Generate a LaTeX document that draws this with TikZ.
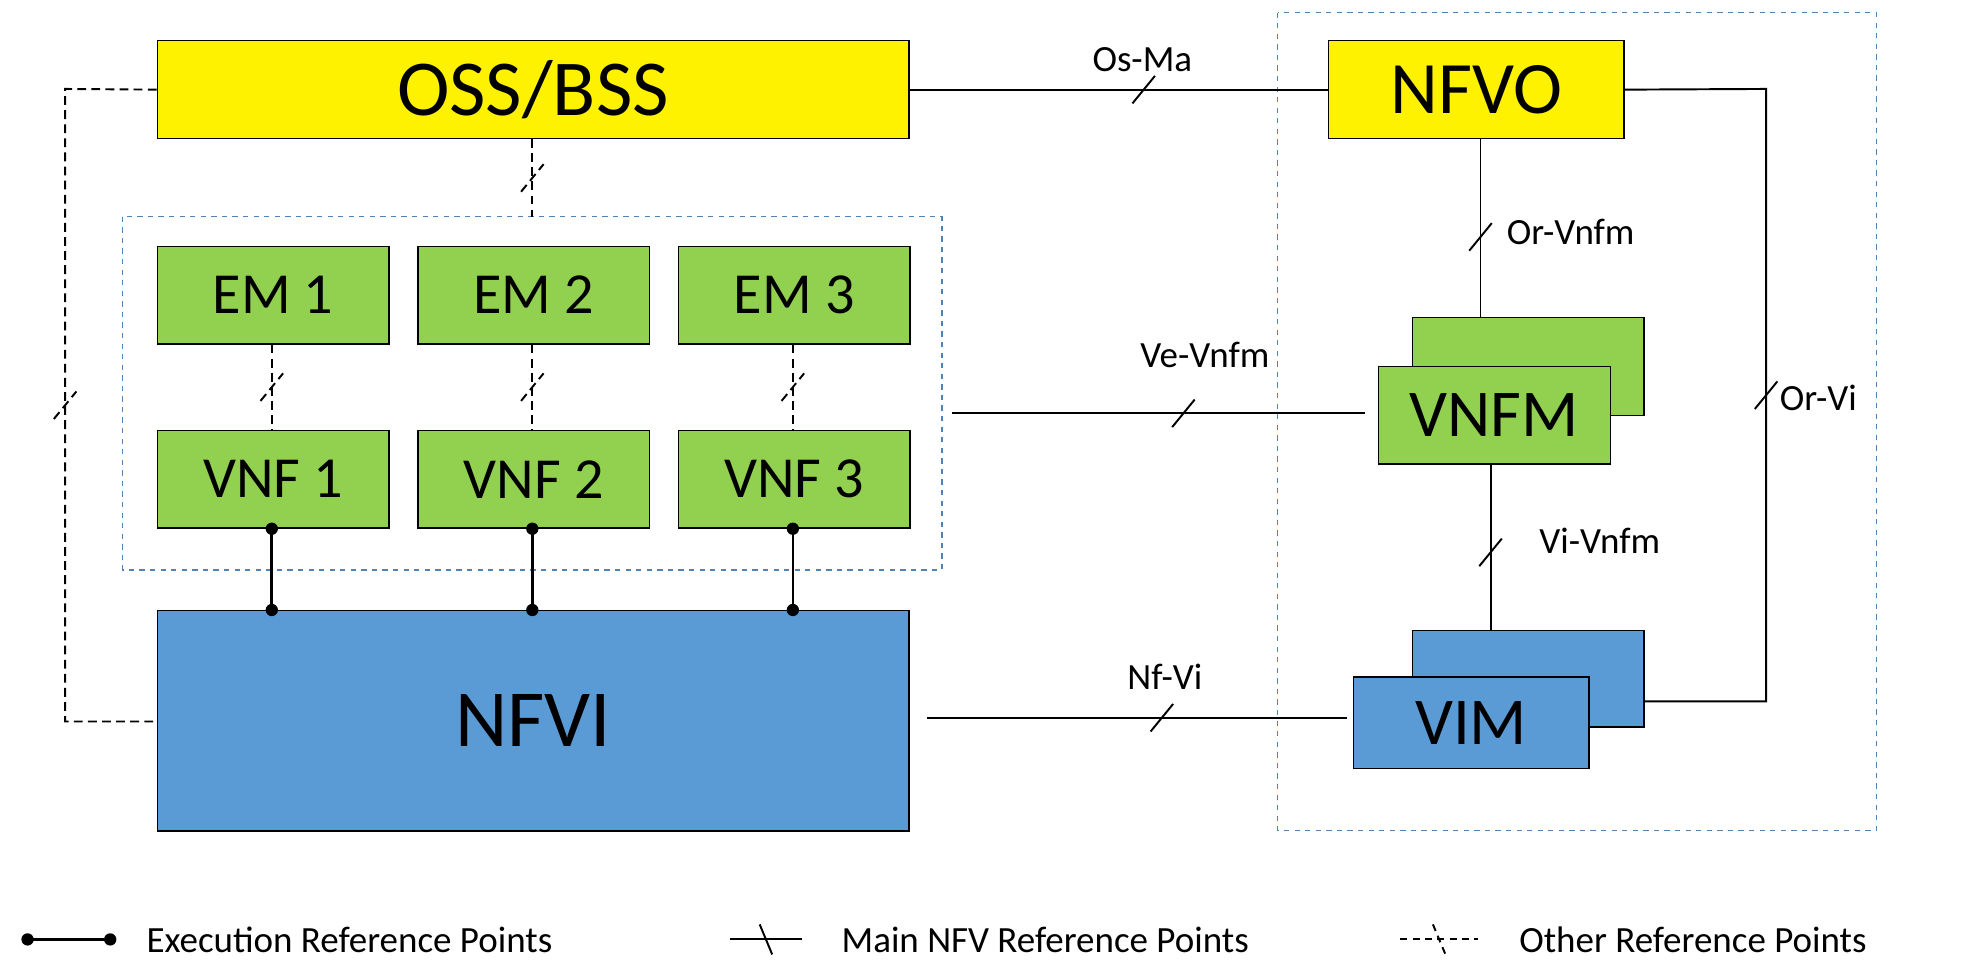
\documentclass[tikz,border=0pt]{standalone}
\usepackage{fontspec}
\setmainfont{Carlito}
\begin{document}
\begin{tikzpicture}[x=0.025cm,y=-0.025cm,
  box/.style={draw=black,line width=0.8pt,inner sep=0,anchor=north west},
  yel/.style={box,fill=yellow},
  grn/.style={box,fill={rgb,255:red,146;green,208;blue,80}},
  blu/.style={box,fill={rgb,255:red,91;green,155;blue,213}},
  grp/.style={draw={rgb,255:red,80;green,130;blue,180},dashed,line width=0.8pt},
  ln/.style={line width=1.1pt},
  oth/.style={line width=1.1pt,dash pattern=on 5pt off 3pt},
  lbl/.style={font=\fontsize{21}{24}\selectfont},
  tick/.pic={\draw[line width=1.1pt] (-9,11)--(9,-11);},
  btick/.pic={\draw[line width=1.1pt] (-5,-12)--(5,12);},
  dot/.style={circle,fill=black,inner sep=0,minimum size=7pt}]
\useasboundingbox (0,0) rectangle (1568,778);
% groups
\draw[grp] (98,173) rectangle (752,455);
\draw[grp] (1020,10) rectangle (1498,663);
% boxes
\node[yel,minimum width=600*0.025cm,minimum height=78*0.025cm] (oss) at (125,32) {};
\node[font=\fontsize{45}{50}\selectfont] at (oss.center) {OSS/BSS};
\node[yel,minimum width=236*0.025cm,minimum height=78*0.025cm] (nfvo) at (1060,32) {};
\node[font=\fontsize{42}{46}\selectfont] at (nfvo.center) {NFVO};
\foreach \i/\x in {1/125,2/333,3/541}{
  \node[grn,minimum width=185*0.025cm,minimum height=78*0.025cm,font=\fontsize{33}{36}\selectfont] (em\i) at (\x,196) {};
  \node[font=\fontsize{33}{36}\selectfont] at (em\i.center) {EM \i};
  \node[grn,minimum width=185*0.025cm,minimum height=78*0.025cm] (vnf\i) at (\x,343) {};
  \node[font=\fontsize{33}{36}\selectfont] at (vnf\i.center) {VNF \i};
}
\node[blu,minimum width=600*0.025cm,minimum height=176*0.025cm] (nfvi) at (125,487) {};
\node[font=\fontsize{46}{50}\selectfont] at (nfvi.center) {NFVI};
\node[grn,minimum width=185*0.025cm,minimum height=78*0.025cm] (vnfmb) at (1127,253) {};
\node[grn,minimum width=185*0.025cm,minimum height=78*0.025cm] (vnfm) at (1100,292) {};
\node[font=\fontsize{38}{42}\selectfont] at (vnfm.center) {VNFM};
\node[blu,minimum width=185*0.025cm,minimum height=77*0.025cm] (vimb) at (1127,503) {};
\node[blu,minimum width=188*0.025cm,minimum height=73*0.025cm] (vim) at (1080,540) {};
\node[font=\fontsize{38}{42}\selectfont] at (vim.center) {VIM};
% connectors
\draw[ln] (oss.east) -- (nfvo.west) pic[pos=0.56]{tick};
\node[lbl,anchor=south] at (912,62) {Os-Ma};
\coordinate (c1) at (1410,71); \coordinate (c2) at (1410,560);
\draw[ln] (nfvo.east) -- (c1) -- (c2) pic[pos=0.5]{tick} -- (vimb.east|-c2);
\node[lbl,anchor=west] at (1416,318) {Or-Vi};
\draw[ln] (nfvo.south-|1182,0) -- (vnfmb.north-|1182,0) pic[pos=0.55]{tick};
\node[lbl,anchor=west] at (1198,185) {Or-Vnfm};
\coordinate (ve) at (760,330);
\draw[ln] (ve) -- (1090,330) pic[pos=0.56]{tick};
\node[lbl] at (962,283) {Ve-Vnfm};
\draw[ln] (vnfm.south-|1190,0) -- (vimb.north-|1190,0) pic[pos=0.53]{tick};
\node[lbl,anchor=west] at (1224,432) {Vi-Vnfm};
\coordinate (nf) at (740,573);
\draw[ln] (nf) -- (1075,573) pic[pos=0.56]{tick};
\node[lbl] at (930,540) {Nf-Vi};
\draw[oth] (oss.south-|425,0) -- (425,173) pic[pos=0.5]{tick};
\foreach \i/\x in {1/217,2/425,3/633}{
  \draw[oth] (em\i.south-|\x,0) -- (vnf\i.north-|\x,0) pic[pos=0.5]{tick};
  \draw[line width=1.5pt] (vnf\i.south-|\x,0) node[dot]{} -- (nfvi.north-|\x,0) node[dot]{};
}
\coordinate (l1) at (52,71); \coordinate (l2) at (52,576);
\draw[oth] (oss.west) -- (l1) -- (l2) pic[pos=0.5]{tick} -- (nfvi.west|-l2);
% legend
\coordinate (a1) at (22,750); \coordinate (a2) at (88,750);
\draw[line width=1.5pt] (a1) node[dot]{} -- (a2) node[dot]{};
\node[lbl,anchor=west] at (112,750) {Execution Reference Points};
\coordinate (b1) at (583,750); \coordinate (b2) at (640,750);
\draw[ln] (b1) -- (b2) pic[pos=0.5]{btick};
\node[lbl,anchor=west] at (667,750) {Main NFV Reference Points};
\coordinate (d1) at (1118,750); \coordinate (d2) at (1180,750);
\draw[oth,dash pattern=on 4pt off 3pt] (d1) -- (d2) pic[pos=0.5]{btick};
\node[lbl,anchor=west] at (1208,750) {Other Reference Points};
\end{tikzpicture}
\end{document}
